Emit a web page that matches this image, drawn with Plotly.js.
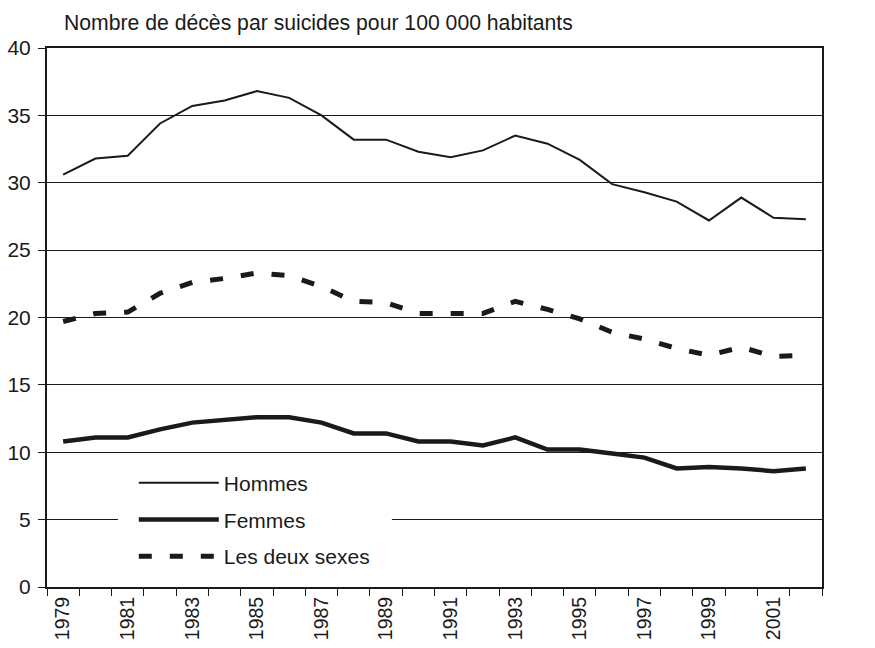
<!DOCTYPE html>
<html>
<head>
<meta charset="utf-8">
<script src="https://cdn.plot.ly/plotly-3.0.1.min.js"></script>
<style>html,body{margin:0;padding:0;background:#fff;}#chart{width:875px;height:648px;}</style>
</head>
<body>
<div id="chart"></div>
<script>
const years = [1979,1980,1981,1982,1983,1984,1985,1986,1987,1988,1989,1990,1991,1992,1993,1994,1995,1996,1997,1998,1999,2000,2001,2002];
const hommes = [30.6,31.8,32.0,34.4,35.7,36.1,36.8,36.3,35.0,33.2,33.2,32.3,31.9,32.4,33.5,32.9,31.7,29.9,29.3,28.6,27.2,28.9,27.4,27.3];
const femmes = [10.8,11.1,11.1,11.7,12.2,12.4,12.6,12.6,12.2,11.4,11.4,10.8,10.8,10.5,11.1,10.2,10.2,9.9,9.6,8.8,8.9,8.8,8.6,8.8];
const deuxSexes = [19.7,20.3,20.4,21.8,22.6,22.9,23.3,23.1,22.3,21.2,21.1,20.3,20.3,20.3,21.2,20.6,19.9,18.9,18.4,17.7,17.2,17.8,17.1,17.2];
const labelYears = [1979,1981,1983,1985,1987,1989,1991,1993,1995,1997,1999,2001];
const yTicks = [0,5,10,15,20,25,30,35,40];
const titleText = "Nombre de décès par suicides pour 100 000 habitants";

const traces = [
  {x: years, y: hommes, name: "Hommes", type: "scatter", mode: "lines", legendgroup: "a",
   line: {color: "#1a1a1a", width: 2}},
  {x: years, y: femmes, name: "Femmes", type: "scatter", mode: "lines", legendgroup: "b",
   line: {color: "#1a1a1a", width: 4.5}},
  {x: years, y: deuxSexes, name: "Les deux sexes", type: "scatter", mode: "lines", legendgroup: "c",
   line: {color: "#1a1a1a", width: 5, dash: "13px,18px"}}
];

const layout = {
  width: 875, height: 648,
  margin: {l: 47, r: 53, t: 48, b: 61},
  paper_bgcolor: "#fff", plot_bgcolor: "#fff",
  font: {family: "Liberation Sans, Arial, sans-serif", color: "#1a1a1a", size: 21},
  showlegend: true,
  legend: {x: 0.112, y: 0.231, xanchor: "left", yanchor: "top", bgcolor: "rgba(0,0,0,0)",
    borderwidth: 0, font: {size: 21, color: "#1a1a1a"}, itemwidth: 80,
    traceorder: "grouped", tracegroupgap: 6.5},
  xaxis: {
    range: [1978.5, 2002.5], showgrid: false, zeroline: false,
    showline: true, linecolor: "#1a1a1a", linewidth: 2, mirror: true,
    tickmode: "array", tickvals: labelYears, ticktext: labelYears.map(String),
    ticks: "", tickangle: -90, tickfont: {size: 19.5},
    minor: {tickmode: "linear", tick0: 1978.5, dtick: 1, ticks: "outside", ticklen: 7, tickcolor: "#1a1a1a", tickwidth: 1, showgrid: false}
  },
  yaxis: {
    range: [0, 40], tickmode: "array", tickvals: yTicks, ticktext: yTicks.map(String),
    showgrid: true, gridcolor: "#1a1a1a", gridwidth: 1, zeroline: false,
    showline: true, linecolor: "#1a1a1a", linewidth: 2, mirror: true,
    ticks: "outside", ticklen: 7, tickcolor: "#1a1a1a", tickfont: {size: 21}, ticklabelstandoff: 3
  },
  shapes: [{
    type: "rect", layer: "above", xref: "paper", yref: "y",
    x0: 0.0916, x1: 0.445, y0: 4.7, y1: 5.3,
    fillcolor: "#fff", line: {width: 0}
  }],
  annotations: [{
    text: titleText, xref: "paper", yref: "paper", x: 0.0194, y: 1.046,
    xanchor: "left", yanchor: "middle", showarrow: false, font: {size: 21.2, color: "#1a1a1a"}
  }]
};

Plotly.newPlot("chart", traces, layout, {displayModeBar: false, staticPlot: true});
</script>
</body>
</html>
